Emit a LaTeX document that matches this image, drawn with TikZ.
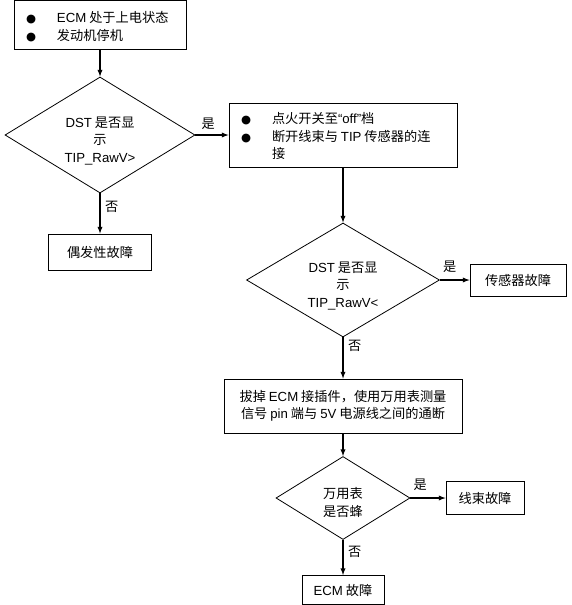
\documentclass[tikz,border=0pt]{standalone}
\usepackage{fontspec}
\setmainfont{Noto Sans CJK SC}
\newfontfamily\en{Liberation Sans}
\newfontfamily\sym{DejaVu Sans}
\usetikzlibrary{shapes.geometric, positioning}

\newcommand{\dotmark}{{\sym\fontsize{11.5}{12}\selectfont ●}}

\tikzset{
  stepbox/.style={draw, rectangle, line width=0.8pt, inner sep=0pt, align=center},
  test/.style={draw, diamond, line width=0.8pt, inner sep=0pt, align=center, aspect=1.6},
  flow/.style={-latex, line width=1.3pt},
  lab/.style={inner sep=0pt},
}

\begin{document}
\begin{tikzpicture}[x=1pt, y=-1pt, every node/.style={font=\fontsize{13.2}{17.5}\selectfont}]
    \useasboundingbox (0,0) rectangle (571,605);

    % Start state
    \node[stepbox, minimum width=172pt, minimum height=49pt] (power) at (100,25)
        {\begin{tabular}{@{}p{31pt}@{}p{117pt}@{}}
         \rule{0pt}{18pt}\dotmark & {\en ECM} 处于上电状态\\
         \dotmark & 发动机停机
         \end{tabular}};

    % First check
    \node[test, minimum width=190pt, minimum height=116pt] (dst1) at (100,135)
        {\rule{0pt}{22pt}{\en DST} 是否显\\示\\{\en TIP\_RawV>}};
    \node[stepbox, minimum width=103pt, minimum height=36pt] (rand) at (100,252) {偶发性故障};

    % Ignition off
    \node[stepbox, minimum width=228pt, minimum height=64pt] (key) at (343,135)
        {\begin{tabular}{@{}p{31pt}@{}p{173pt}@{}}
         \rule{0pt}{18pt}\dotmark & 点火开关至{\en “off”}档\\
         \dotmark & 断开线束与 {\en TIP} 传感器的连\\
                  & 接
         \end{tabular}};

    % Second check
    \node[test, minimum width=193pt, minimum height=114pt] (dst2) at (343,280)
        {\rule{0pt}{22pt}{\en DST} 是否显\\示\\{\en TIP\_RawV<}};
    \node[stepbox, minimum width=96pt, minimum height=32pt] (sensor) at (518,280) {传感器故障};

    % Multimeter test
    \node[stepbox, minimum width=238pt, minimum height=54pt] (meter) at (343,406)
        {拔掉 {\en ECM} 接插件，使用万用表测量\\信号 {\en pin} 端与 {\en 5V} 电源线之间的通断};
    \node[test, minimum width=134pt, minimum height=83pt] (beep) at (343,498)
        {\rule{0pt}{20pt}万用表\\是否蜂};
    \node[stepbox, minimum width=78pt, minimum height=33pt] (harness) at (485,498) {线束故障};
    \node[stepbox, minimum width=82pt, minimum height=29pt] (ecm) at (343,590) {{\en ECM} 故障};

    % Arrows
    \draw[flow] (power) -- (dst1);
    \draw[flow] (dst1) -- (rand);
    \draw[flow] (dst1) -- (key);
    \draw[flow] (key) -- (dst2);
    \draw[flow] (dst2) -- (sensor);
    \draw[flow] (dst2) -- (meter);
    \draw[flow] (meter) -- (beep);
    \draw[flow] (beep) -- (harness);
    \draw[flow] (beep) -- (ecm);

    % Labels
    \node[lab, above right=5pt and 6pt of dst1.east] (yes1) {是};
    \node[lab, below right=8pt and 5pt of dst1.south] (no1) {否};
    \node[lab, above right=7pt and 3pt of dst2.east] (yes2) {是};
    \node[lab, below right=3pt and 5pt of dst2.south] (no2) {否};
    \node[lab, above right=7pt and 3pt of beep.east] (yes3) {是};
    \node[lab, below right=6pt and 5pt of beep.south] (no3) {否};
\end{tikzpicture}
\end{document}
